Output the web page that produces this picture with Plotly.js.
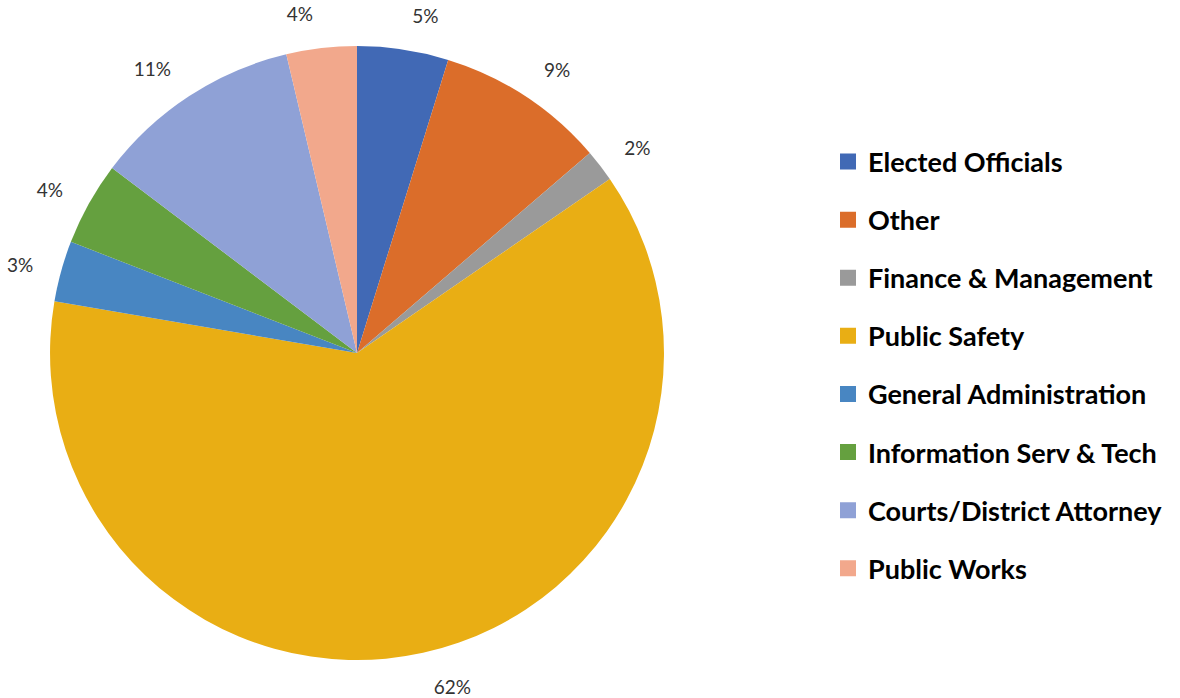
<!DOCTYPE html>
<html>
<head>
<meta charset="utf-8">
<script src="https://cdn.plot.ly/plotly-3.0.1.min.js"></script>
<style>html,body{margin:0;padding:0;background:#fff;}#chart{width:1180px;height:698px;}</style>
</head>
<body>
<div id="chart"></div>
<script>
const categories = ["Elected Officials", "Other", "Finance & Management", "Public Safety",
  "General Administration", "Information Serv & Tech", "Courts/District Attorney", "Public Works"];
const shares = [4.8, 8.9, 1.7, 62.3, 3.2, 4.4, 11.0, 3.7];
const colors = ["#4169B5", "#DB6D2A", "#9A9A9A", "#E9AE14", "#4886C2", "#65A03F", "#8FA1D6", "#F2A88C"];

// label layer: same data, transparent slices, slightly larger so labels sit further out
const labelPie = {
  type: "pie",
  labels: categories,
  values: shares,
  sort: false,
  direction: "clockwise",
  rotation: 0,
  marker: {colors: categories.map(() => "rgba(0,0,0,0)"), line: {width: 0}},
  texttemplate: "%{percent:.0%}",
  textposition: "outside",
  outsidetextfont: {family: "Lato, sans-serif", size: 19, color: "#333333"},
  showlegend: false,
  hoverinfo: "skip",
  domain: {x: [0.0229, 0.5822], y: [0.0215, 0.967]}
};

const pie = {
  type: "pie",
  labels: categories,
  values: shares,
  sort: false,
  direction: "clockwise",
  rotation: 0,
  marker: {colors: colors, line: {width: 0}},
  textinfo: "none",
  showlegend: false,
  hoverinfo: "label+percent",
  domain: {x: [0.0424, 0.5627], y: [0.0544, 0.934]}
};

const legendTraces = categories.map((c, i) => ({
  type: "scatter",
  mode: "markers",
  x: [null], y: [null],
  name: c,
  legendgroup: "g" + i,
  marker: {symbol: "square", size: 16, color: colors[i], line: {width: 0}},
  showlegend: true,
  hoverinfo: "skip"
}));

const layout = {
  width: 1180, height: 698,
  margin: {l: 0, r: 0, t: 0, b: 0},
  paper_bgcolor: "#fff", plot_bgcolor: "#fff",
  xaxis: {visible: false, domain: [0.99, 1]},
  yaxis: {visible: false, domain: [0.99, 1]},
  showlegend: true,
  legend: {
    x: 0.7017, xanchor: "left",
    y: 0.803, yanchor: "top",
    tracegroupgap: 20,
    traceorder: "grouped",
    font: {family: "Lato, sans-serif", size: 27, color: "#000", weight: "bold"},
    bgcolor: "rgba(0,0,0,0)"
  }
};

Plotly.newPlot("chart", [labelPie, pie].concat(legendTraces), layout, {displayModeBar: false, staticPlot: true});
</script>
</body>
</html>
